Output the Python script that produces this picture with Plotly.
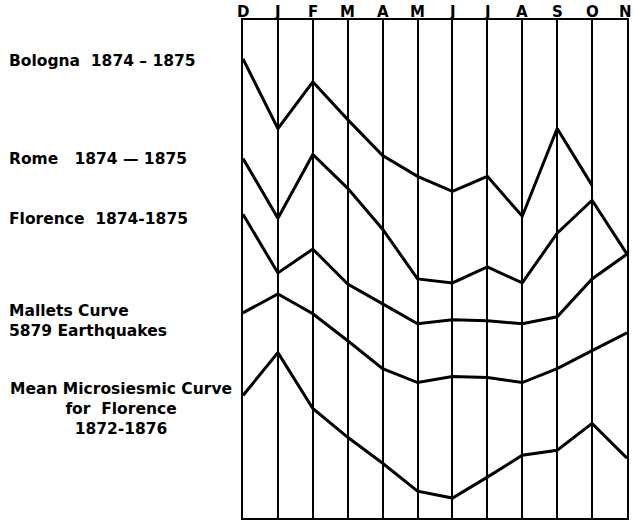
import plotly.graph_objects as go

months = ["D", "J", "F", "M", "A", "M", "J", "J", "A", "S", "O", "N"]
bologna = [461, 391, 438, 400, 364, 343, 328, 343, 303, 391, 334, None]
rome = [361, 301, 365, 331, 290, 240, 236, 252, 236, 286, 319, 265]
florence = [305, 246, 270, 235, 215, 195, 199, 198, 195, 202, 240, 265]
mallet = [206, 225, 205, 178, 150, 136, 142, 141, 136, 150, 168, 186]
mean_micro = [123, 166, 110, 81, 55, 27, 20, 41, 63, 68, 95, 60]

series = [
    ("Bologna 1874 - 1875", bologna),
    ("Rome 1874 - 1875", rome),
    ("Florence 1874-1875", florence),
    ("Mallets Curve", mallet),
    ("Mean Microsiesmic Curve", mean_micro),
]

# label blocks: text, y (chart units), anchor, x pixel
labels = [
    ("Bologna  1874 \u2013 1875", 459, "left", 7),
    ("Rome   1874 \u2014 1875", 360, "left", 7),
    ("Florence  1874-1875", 300, "left", 7),
    ("Mallets Curve<br>5879 Earthquakes", 198, "left", 7),
    ("Mean Microsiesmic Curve<br>for  Florence<br>1872-1876", 109, "center", 121),
]

idx = list(range(len(months)))
fig = go.Figure()
for name, vals in series:
    fig.add_trace(go.Scatter(x=idx, y=vals, mode="lines", name=name,
                             line=dict(color="black", width=3), cliponaxis=False,
                             connectgaps=False))

FONT = "DejaVu Sans"
L, R = 243, 627
W = 633
for text, yv, align, px in labels:
    fig.add_annotation(x=(px - L) / (R - L), xref="paper", y=yv, yref="y",
                       text=text, showarrow=False,
                       xanchor="left" if align == "left" else "center",
                       align=align,
                       font=dict(family=FONT, size=15.5, color="black", weight="bold"))

# month letters along the top (last one anchored to stay inside the page)
for i, m in enumerate(months):
    last = i == len(months) - 1
    fig.add_annotation(x=i, xref="x", y=1, yref="paper", yshift=8,
                       text=m, showarrow=False,
                       xanchor="center" if not last else "right",
                       xshift=0 if not last else 7,
                       yanchor="middle",
                       font=dict(family=FONT, size=15, color="black", weight="bold"))

fig.update_layout(
    width=633, height=521,
    margin=dict(l=L, r=W - R, t=20, b=3, autoexpand=False),
    paper_bgcolor="white", plot_bgcolor="white",
    showlegend=False,
    xaxis=dict(range=[0, 11], tickvals=idx, showticklabels=False, automargin=False,
               showgrid=True, gridcolor="black", gridwidth=2,
               zeroline=False, showline=True, linecolor="black", linewidth=2, mirror=True,
               ticks=""),
    yaxis=dict(range=[0, 500], showgrid=False, zeroline=False, showticklabels=False,
               automargin=False,
               showline=True, linecolor="black", linewidth=2, mirror=True, ticks=""),
)

fig.write_html("out.html", config={"displayModeBar": False},
               post_script="document.body.style.margin='0';")
